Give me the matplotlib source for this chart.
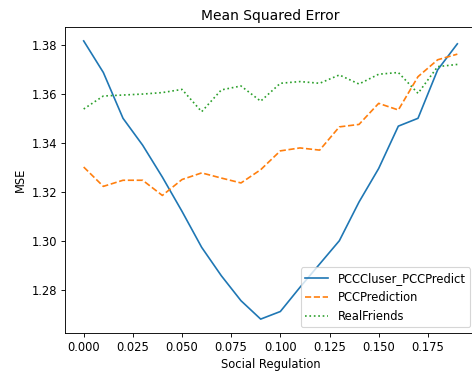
import numpy as np
import matplotlib
matplotlib.use("Agg")
import matplotlib.pyplot as plt

social_reg = [round(0.01 * i, 2) for i in range(20)]

pcc_cluster = [1.3816, 1.3687, 1.3500, 1.3390, 1.3260, 1.3120, 1.2973, 1.2857,
               1.2755, 1.2680, 1.2711, 1.2810, 1.2905, 1.3000, 1.3158, 1.3295,
               1.3468, 1.3500, 1.3698, 1.3804]
pcc_prediction = [1.3301, 1.3222, 1.3247, 1.3247, 1.3185, 1.3250, 1.3277, 1.3256,
                  1.3236, 1.3290, 1.3367, 1.3379, 1.3370, 1.3465, 1.3475, 1.3561,
                  1.3534, 1.3670, 1.3739, 1.3762]
real_friends = [1.3538, 1.3591, 1.3595, 1.3599, 1.3605, 1.3618, 1.3527, 1.3616,
                1.3632, 1.3570, 1.3643, 1.3650, 1.3643, 1.3677, 1.3640, 1.3680,
                1.3687, 1.3602, 1.3711, 1.3720]

plt.rcParams["font.size"] = 10.4

fig = plt.figure(figsize=(472 / 80, 371 / 80), dpi=80)
ax = fig.add_axes([0.1377, 0.1024, 0.8708, 0.8248])

ax.plot(social_reg, pcc_cluster, linestyle="-", label="PCCCluser_PCCPredict")
ax.plot(social_reg, pcc_prediction, linestyle="--", label="PCCPrediction")
ax.plot(social_reg, real_friends, linestyle=":", label="RealFriends")

ax.set_title("Mean Squared Error")
ax.set_xlabel("Social Regulation")
ax.set_ylabel("MSE")
ax.legend(loc="lower right")

fig.savefig("out.png", dpi=80)
